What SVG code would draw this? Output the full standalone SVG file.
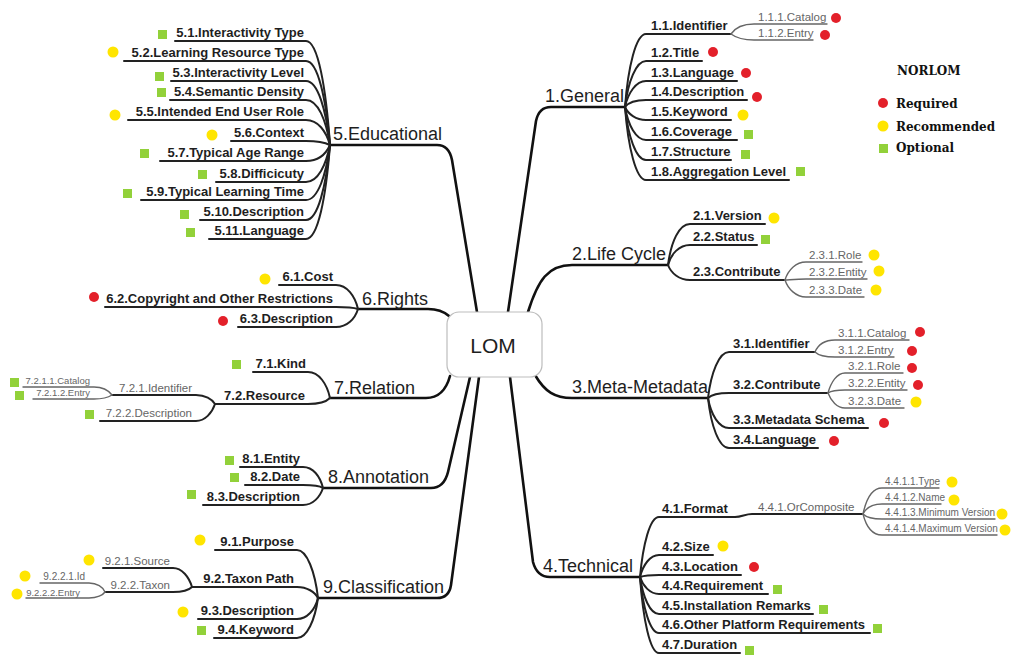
<svg xmlns="http://www.w3.org/2000/svg" width="1012" height="655" viewBox="0 0 1012 655">
  <style>
    text { font-family: "Liberation Sans", Arial, sans-serif; fill: #1e1e1e; }
    .main { font-size: 18px; }
    .sub { font-size: 13px; font-weight: bold; }
    .leaf { font-size: 11.5px; fill: #666; }
    .tiny { font-size: 10px; fill: #666; }
    .mini { font-size: 9.5px; fill: #666; }
    .end { text-anchor: end; }
    .legend { font-family: "DejaVu Serif", "Liberation Serif", serif; font-size: 12px; font-weight: bold; fill: #111; }
    .br { fill: none; stroke: #111; stroke-width: 2.6; stroke-linecap: round; stroke-linejoin: round; }
    .ln { fill: none; stroke: #222; stroke-width: 2; stroke-linecap: round; }
    .thin { fill: none; stroke: #666; stroke-width: 1.4; stroke-linecap: round; }
    .req { fill: #e3202a; }
    .rec { fill: #ffe500; }
    .opt { fill: #92d13a; }
    .box { fill: #fff; stroke: #bdbdbd; stroke-width: 1.2; }
  </style>

  <!-- connectors: main branches, child links and underlines -->
  <g id="connectors">
    <!-- main branches from the central box -->
    <path class="br" d="M508 312L536 121Q539 107 551 107H625"/>
    <path class="br" d="M477 312L452 160Q449 145 437 145H330"/>
    <path class="br" d="M449 316Q441 309 428 309H358"/>
    <path class="br" d="M450 376Q444 398 426 398H330"/>
    <path class="br" d="M470 377L448 472Q444 488 431 488H323"/>
    <path class="br" d="M479 377L451 585Q449 598 437 598H318"/>
    <path class="br" d="M510 377L533 562Q537 577 550 577H640"/>
    <path class="br" d="M528 312C538 280 548 265 572 265H668"/>
    <path class="br" d="M535 375C545 392 555 398 572 398H708"/>

    <!-- 1.General -->
    <path class="ln" d="M625 107C628 67 636 34 646 34H731"/>
    <path class="ln" d="M625 107C628 82 636 61 646 61H702"/>
    <path class="ln" d="M625 107C628 93 636 81 646 81H737"/>
    <path class="ln" d="M625 107C628 103 636 100 646 100H747"/>
    <path class="ln" d="M625 107C628 114 636 120 646 120H731"/>
    <path class="ln" d="M625 107C628 125 636 140 646 140H737"/>
    <path class="ln" d="M625 107C628 136 636 160 646 160H731"/>
    <path class="ln" d="M625 107C628 147 636 180 646 180H789"/>
    <path class="thin" d="M731 34C735 28 743 24 754 24H827"/>
    <path class="thin" d="M731 34C735 37 743 40 754 40H813"/>

    <!-- 2.Life Cycle -->
    <path class="ln" d="M668 265C671 242 679 224 690 224H765"/>
    <path class="ln" d="M668 265C671 254 679 245 690 245H757"/>
    <path class="ln" d="M668 265C671 273 679 280 690 280H785"/>
    <path class="thin" d="M785 280C788 270 796 262 806 262H862"/>
    <path class="thin" d="M785 280C788 280 796 279 806 279H867"/>
    <path class="thin" d="M785 280C788 289 796 297 806 297H864"/>

    <!-- 3.Meta-Metadata -->
    <path class="ln" d="M708 398C711 373 719 352 729 352H815"/>
    <path class="ln" d="M708 398C711 395 719 393 729 393H828"/>
    <path class="ln" d="M708 398C711 415 719 428 729 428H868"/>
    <path class="ln" d="M708 398C711 426 719 448 729 448H818"/>
    <path class="thin" d="M815 352C818 345 825 340 835 340H909"/>
    <path class="thin" d="M815 352C818 355 825 357 835 357H894"/>
    <path class="thin" d="M828 393C831 382 837 373 845 373H903"/>
    <path class="thin" d="M828 393C831 391 837 390 845 390H907"/>
    <path class="thin" d="M828 393C831 401 837 408 845 408H904"/>

    <!-- 4.Technical -->
    <path class="ln" d="M640 577C643 544 650 517 659 517H735C742 517 745 514 752 514H863"/>
    <path class="ln" d="M640 577C643 565 650 555 659 555H713"/>
    <path class="ln" d="M640 577C643 576 650 575 659 575H741"/>
    <path class="ln" d="M640 577C643 586 650 594 659 594H768"/>
    <path class="ln" d="M640 577C643 597 650 614 659 614H813"/>
    <path class="ln" d="M640 577C643 608 650 633 659 633H870"/>
    <path class="ln" d="M640 577C643 619 650 653 659 653H740"/>
    <path class="thin" d="M863 514C866 500 872 488 882 488H939"/>
    <path class="thin" d="M863 514C866 508 872 504 882 504H941"/>
    <path class="thin" d="M863 514C866 517 872 519 882 519H995"/>
    <path class="thin" d="M863 514C866 526 872 535 882 535H997"/>

    <!-- 5.Educational -->
    <path class="ln" d="M330 145C326 88 318 41 306 41H175"/>
    <path class="ln" d="M330 145C326 99 318 61 306 61H124"/>
    <path class="ln" d="M330 145C326 110 318 81 306 81H171"/>
    <path class="ln" d="M330 145C326 120 318 100 306 100H170"/>
    <path class="ln" d="M330 145C326 131 318 120 306 120H128"/>
    <path class="ln" d="M330 145C326 143 318 141 306 141H231"/>
    <path class="ln" d="M330 145C326 154 318 161 306 161H160"/>
    <path class="ln" d="M330 145C326 165 318 182 306 182H216"/>
    <path class="ln" d="M330 145C326 175 318 200 306 200H141"/>
    <path class="ln" d="M330 145C326 186 318 220 306 220H200"/>
    <path class="ln" d="M330 145C326 197 318 239 306 239H209"/>

    <!-- 6.Rights -->
    <path class="ln" d="M358 309C355 296 347 285 336 285H279"/>
    <path class="ln" d="M358 309C355 308 347 307 336 307H105"/>
    <path class="ln" d="M358 309C355 319 347 327 336 327H238"/>

    <!-- 7.Relation -->
    <path class="ln" d="M330 398C327 384 319 372 308 372H253"/>
    <path class="ln" d="M330 398C327 401 319 404 308 404H215"/>
    <path class="ln" d="M215 404C212 399 205 395 196 395H112"/>
    <path class="ln" d="M215 404C212 413 205 421 196 421H100"/>
    <path class="thin" d="M112 395C109 391 103 387 94 387H23"/>
    <path class="thin" d="M112 395C109 397 103 399 94 399H33"/>

    <!-- 8.Annotation -->
    <path class="ln" d="M323 488C320 476 313 467 303 467H240"/>
    <path class="ln" d="M323 488C320 486 313 485 303 485H245"/>
    <path class="ln" d="M323 488C320 497 313 505 303 505H203"/>

    <!-- 9.Classification -->
    <path class="ln" d="M318 598C315 572 307 550 297 550H215"/>
    <path class="ln" d="M318 598C315 592 307 587 297 587H192"/>
    <path class="ln" d="M318 598C315 610 307 619 297 619H198"/>
    <path class="ln" d="M318 598C315 620 307 638 297 638H214"/>
    <path class="ln" d="M192 587C189 577 182 568 173 568H103"/>
    <path class="ln" d="M192 587C189 590 182 592 173 592H105"/>
    <path class="thin" d="M105 592C103 587 97 583 89 583H40"/>
    <path class="thin" d="M105 592C103 595 97 598 89 598H26"/>
  </g>

  <!-- central node -->
  <g id="lom">
    <rect class="box" x="447" y="312" width="95" height="65" rx="12"/>
    <text x="493" y="353" font-size="21" text-anchor="middle">LOM</text>
  </g>

  <g id="general">
    <text class="main" x="545" y="102">1.General</text>
    <text class="sub" x="651" y="30">1.1.Identifier</text>
    <text class="leaf" x="758" y="21">1.1.1.Catalog</text>
    <circle class="req" cx="836" cy="18" r="5"/>
    <text class="leaf" x="758" y="37">1.1.2.Entry</text>
    <circle class="req" cx="825" cy="35" r="5"/>
    <text class="sub" x="651" y="57">1.2.Title</text>
    <circle class="req" cx="713" cy="52" r="5"/>
    <text class="sub" x="651" y="77">1.3.Language</text>
    <circle class="req" cx="746" cy="73" r="5"/>
    <text class="sub" x="651" y="96">1.4.Description</text>
    <circle class="req" cx="757" cy="97" r="5"/>
    <text class="sub" x="651" y="116">1.5.Keyword</text>
    <circle class="rec" cx="743" cy="115" r="5.5"/>
    <text class="sub" x="651" y="136">1.6.Coverage</text>
    <rect class="opt" x="744" y="130" width="9" height="9"/>
    <text class="sub" x="651" y="156">1.7.Structure</text>
    <rect class="opt" x="741" y="150" width="9" height="9"/>
    <text class="sub" x="651" y="176">1.8.Aggregation Level</text>
    <rect class="opt" x="796" y="167" width="9" height="9"/>
  </g>

  <g id="life-cycle">
    <text class="main" x="572" y="260">2.Life Cycle</text>
    <text class="sub" x="693" y="220">2.1.Version</text>
    <circle class="rec" cx="774" cy="218" r="5.5"/>
    <text class="sub" x="693" y="241">2.2.Status</text>
    <rect class="opt" x="761" y="235" width="9" height="9"/>
    <text class="sub" x="693" y="276">2.3.Contribute</text>
    <text class="leaf" x="809" y="259">2.3.1.Role</text>
    <circle class="rec" cx="874" cy="255" r="5.5"/>
    <text class="leaf" x="809" y="276">2.3.2.Entity</text>
    <circle class="rec" cx="879" cy="271" r="5.5"/>
    <text class="leaf" x="809" y="294">2.3.3.Date</text>
    <circle class="rec" cx="876" cy="290" r="5.5"/>
  </g>

  <g id="meta-metadata">
    <text class="main" x="572" y="393">3.Meta-Metadata</text>
    <text class="sub" x="733" y="348">3.1.Identifier</text>
    <text class="leaf" x="838" y="337">3.1.1.Catalog</text>
    <circle class="req" cx="920" cy="332" r="5"/>
    <text class="leaf" x="838" y="354">3.1.2.Entry</text>
    <circle class="req" cx="912" cy="351" r="5"/>
    <text class="sub" x="733" y="389">3.2.Contribute</text>
    <text class="leaf" x="848" y="370">3.2.1.Role</text>
    <circle class="req" cx="912" cy="368" r="5"/>
    <text class="leaf" x="848" y="387">3.2.2.Entity</text>
    <circle class="req" cx="918" cy="385" r="5"/>
    <text class="leaf" x="848" y="405">3.2.3.Date</text>
    <circle class="rec" cx="916" cy="402" r="5.5"/>
    <text class="sub" x="733" y="424">3.3.Metadata Schema</text>
    <circle class="req" cx="884" cy="423" r="5"/>
    <text class="sub" x="733" y="444">3.4.Language</text>
    <circle class="req" cx="834" cy="441" r="5"/>
  </g>

  <g id="technical">
    <text class="main" x="543" y="572">4.Technical</text>
    <text class="sub" x="662" y="513">4.1.Format</text>
    <text class="leaf" x="758" y="511">4.4.1.OrComposite</text>
    <text class="tiny" x="885" y="485">4.4.1.1.Type</text>
    <circle class="rec" cx="952" cy="482" r="5.5"/>
    <text class="tiny" x="885" y="501">4.4.1.2.Name</text>
    <circle class="rec" cx="954" cy="500" r="5.5"/>
    <text class="tiny" x="885" y="516">4.4.1.3.Minimum Version</text>
    <circle class="rec" cx="1002" cy="514" r="5.5"/>
    <text class="tiny" x="885" y="532">4.4.1.4.Maximum Version</text>
    <circle class="rec" cx="1005" cy="530" r="5.5"/>
    <text class="sub" x="662" y="551">4.2.Size</text>
    <circle class="rec" cx="723" cy="546" r="5.5"/>
    <text class="sub" x="662" y="571">4.3.Location</text>
    <circle class="req" cx="754" cy="567" r="5"/>
    <text class="sub" x="662" y="590">4.4.Requirement</text>
    <rect class="opt" x="773" y="585" width="9" height="9"/>
    <text class="sub" x="662" y="610">4.5.Installation Remarks</text>
    <rect class="opt" x="819" y="605" width="9" height="9"/>
    <text class="sub" x="662" y="629">4.6.Other Platform Requirements</text>
    <rect class="opt" x="873" y="624" width="9" height="9"/>
    <text class="sub" x="662" y="649">4.7.Duration</text>
    <rect class="opt" x="745" y="646" width="9" height="9"/>
  </g>

  <g id="educational">
    <text class="main" x="333" y="140">5.Educational</text>
    <text class="sub end" x="304" y="37">5.1.Interactivity Type</text>
    <rect class="opt" x="158" y="30" width="9" height="9"/>
    <text class="sub end" x="304" y="57">5.2.Learning Resource Type</text>
    <circle class="rec" cx="113" cy="52" r="5.5"/>
    <text class="sub end" x="304" y="77">5.3.Interactivity Level</text>
    <rect class="opt" x="155" y="72" width="9" height="9"/>
    <text class="sub end" x="304" y="96">5.4.Semantic Density</text>
    <rect class="opt" x="157" y="88" width="9" height="9"/>
    <text class="sub end" x="304" y="116">5.5.Intended End User Role</text>
    <circle class="rec" cx="115" cy="115" r="5.5"/>
    <text class="sub end" x="304" y="137">5.6.Context</text>
    <circle class="rec" cx="212" cy="135" r="5.5"/>
    <text class="sub end" x="304" y="157">5.7.Typical Age Range</text>
    <rect class="opt" x="140" y="149" width="9" height="9"/>
    <text class="sub end" x="304" y="178">5.8.Difficicuty</text>
    <rect class="opt" x="198" y="170" width="9" height="9"/>
    <text class="sub end" x="304" y="196">5.9.Typical Learning Time</text>
    <rect class="opt" x="123" y="189" width="9" height="9"/>
    <text class="sub end" x="304" y="216">5.10.Description</text>
    <rect class="opt" x="180" y="210" width="9" height="9"/>
    <text class="sub end" x="304" y="235">5.11.Language</text>
    <rect class="opt" x="186" y="228" width="9" height="9"/>
  </g>

  <g id="rights">
    <text class="main" x="362" y="305">6.Rights</text>
    <text class="sub end" x="333" y="281">6.1.Cost</text>
    <circle class="rec" cx="265" cy="279" r="5.5"/>
    <text class="sub end" x="333" y="303">6.2.Copyright and Other Restrictions</text>
    <circle class="req" cx="94" cy="297" r="5"/>
    <text class="sub end" x="333" y="323">6.3.Description</text>
    <circle class="req" cx="223" cy="321" r="5"/>
  </g>

  <g id="relation">
    <text class="main" x="334" y="394">7.Relation</text>
    <text class="sub end" x="306" y="368">7.1.Kind</text>
    <rect class="opt" x="232" y="360" width="9" height="9"/>
    <text class="sub end" x="305" y="400">7.2.Resource</text>
    <text class="leaf end" x="192" y="392">7.2.1.Identifier</text>
    <text class="mini end" x="90" y="384">7.2.1.1.Catalog</text>
    <rect class="opt" x="10" y="378" width="9" height="9"/>
    <text class="mini end" x="90" y="396">7.2.1.2.Entry</text>
    <rect class="opt" x="15" y="391" width="9" height="9"/>
    <text class="leaf end" x="192" y="417">7.2.2.Description</text>
    <rect class="opt" x="85" y="410" width="9" height="9"/>
  </g>

  <g id="annotation">
    <text class="main" x="328" y="483">8.Annotation</text>
    <text class="sub end" x="300" y="463">8.1.Entity</text>
    <rect class="opt" x="225" y="456" width="9" height="9"/>
    <text class="sub end" x="300" y="481">8.2.Date</text>
    <rect class="opt" x="230" y="473" width="9" height="9"/>
    <text class="sub end" x="300" y="501">8.3.Description</text>
    <rect class="opt" x="187" y="490" width="9" height="9"/>
  </g>

  <g id="classification">
    <text class="main" x="323" y="593">9.Classification</text>
    <text class="sub end" x="294" y="546">9.1.Purpose</text>
    <circle class="rec" cx="200" cy="540" r="5.5"/>
    <text class="sub end" x="294" y="583">9.2.Taxon Path</text>
    <text class="leaf end" x="170" y="565">9.2.1.Source</text>
    <circle class="rec" cx="89" cy="560" r="5.5"/>
    <text class="leaf end" x="170" y="589">9.2.2.Taxon</text>
    <text class="tiny end" x="85" y="580">9.2.2.1.Id</text>
    <circle class="rec" cx="25" cy="576" r="5.5"/>
    <text class="mini end" x="80" y="596">9.2.2.2.Entry</text>
    <circle class="rec" cx="17" cy="594" r="5.5"/>
    <text class="sub end" x="294" y="615">9.3.Description</text>
    <circle class="rec" cx="183" cy="612" r="5.5"/>
    <text class="sub end" x="294" y="634">9.4.Keyword</text>
    <rect class="opt" x="197" y="626" width="9" height="9"/>
  </g>

  <!-- key to the markers -->
  <g id="legend">
    <text class="legend" x="897" y="75">NORLOM</text>
    <circle class="req" cx="883" cy="103" r="5"/>
    <text class="legend" x="896" y="108">Required</text>
    <circle class="rec" cx="883" cy="126" r="5.5"/>
    <text class="legend" x="896" y="131">Recommended</text>
    <rect class="opt" x="879" y="144" width="9" height="9"/>
    <text class="legend" x="896" y="152">Optional</text>
  </g>
</svg>
